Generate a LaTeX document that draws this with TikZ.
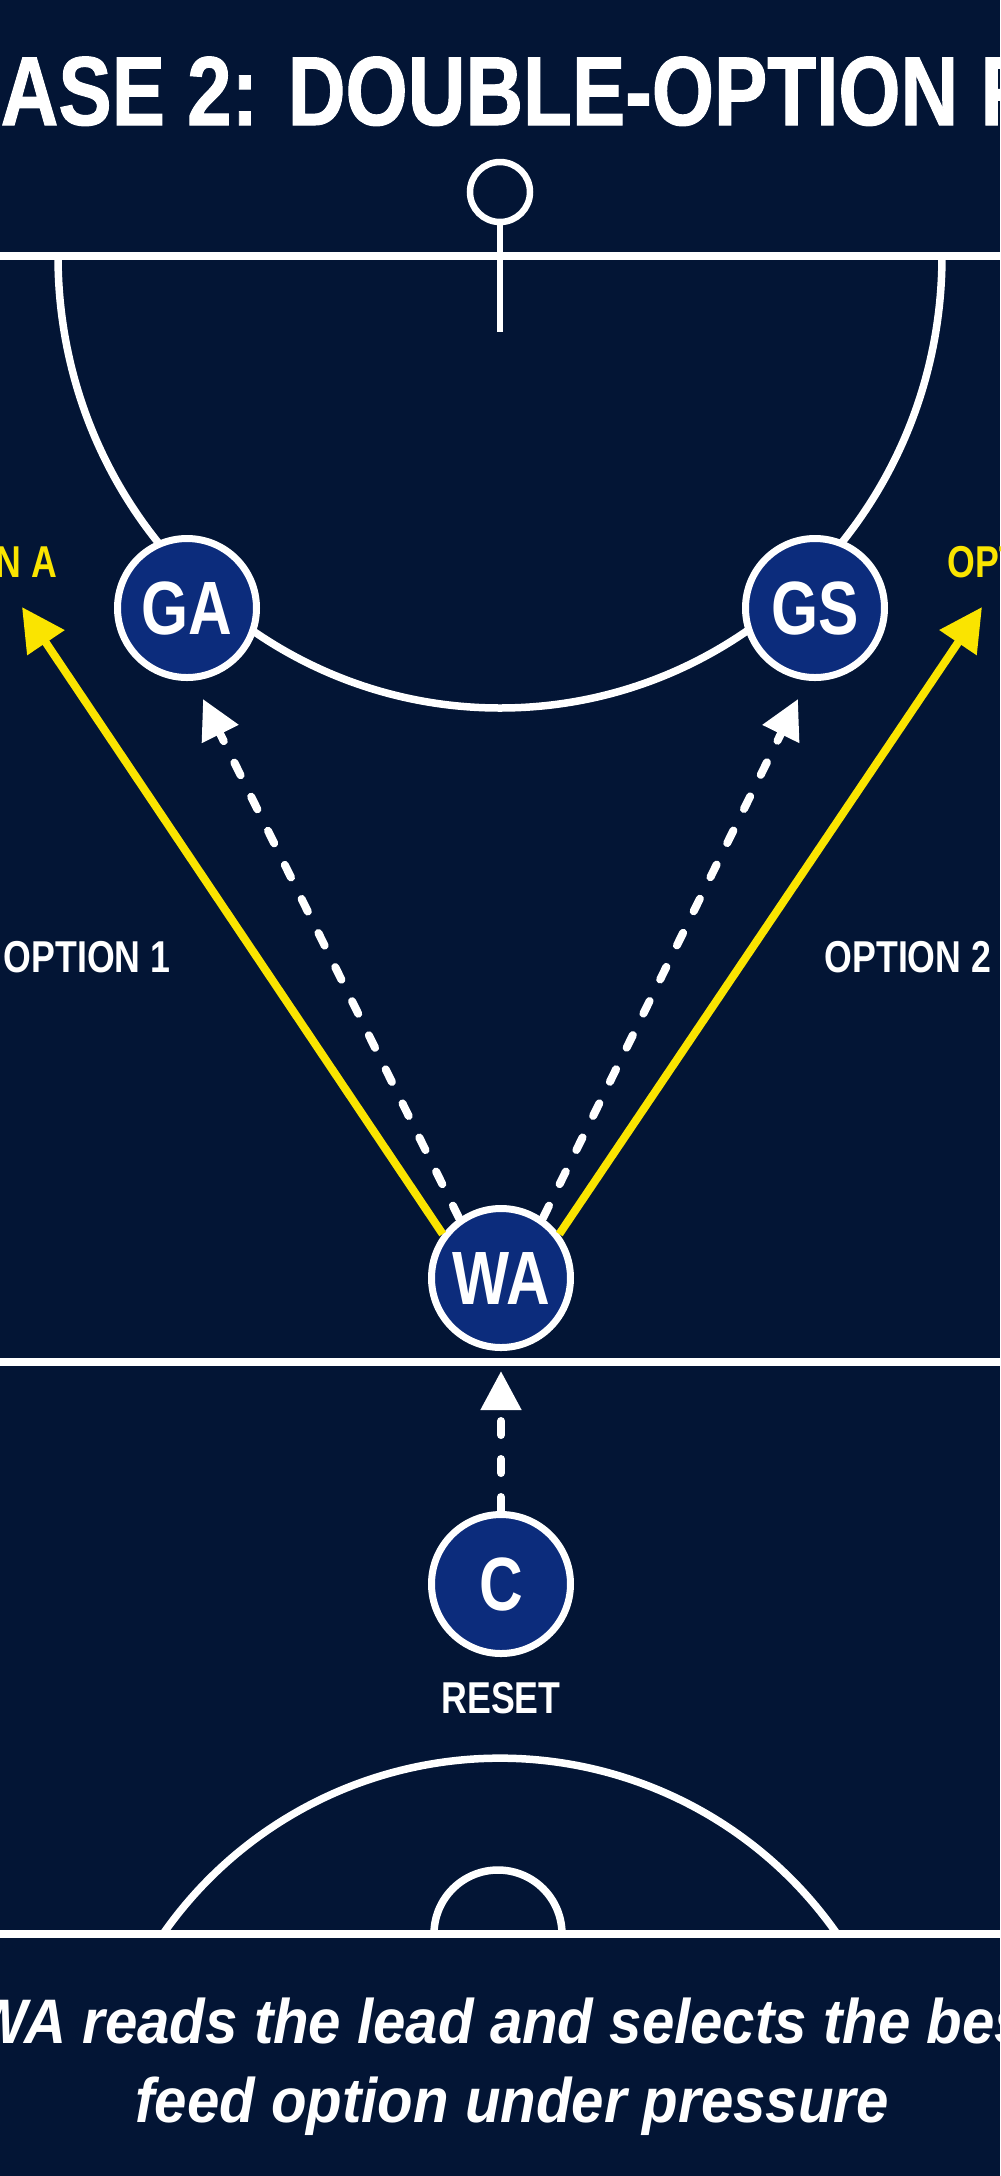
\documentclass[tikz,border=0pt]{standalone}
\usepackage{fontspec}
\setmainfont{Liberation Sans}
\newfontfamily\condfont[FakeStretch=0.8]{Liberation Sans}
\newfontfamily\titlefont[FakeStretch=0.815, FakeBold=1]{Liberation Sans}
\newfontfamily\captfont[FakeStretch=0.925]{Liberation Sans}
\usetikzlibrary{arrows.meta}

\definecolor{courtbg}{RGB}{3,21,53}
\definecolor{playerblue}{RGB}{12,44,124}
\definecolor{optyellow}{RGB}{250,228,0}

\begin{document}
\begin{tikzpicture}[x=0.1mm, y=-0.1mm,
	court/.style={draw=white, line width=0.75mm},
	player/.style={circle, draw=white, line width=0.7mm, fill=playerblue,
		minimum size=13.9mm, inner sep=0pt, text=white,
		font=\condfont\bfseries\fontsize{21.5}{23}\selectfont},
	lbl/.style={inner sep=0pt, text=white,
		font=\condfont\bfseries\fontsize{12.7}{14}\selectfont},
	optlbl/.style={lbl, text=optyellow},
	feed/.style={draw=optyellow, line width=0.8mm, -{Triangle[length=4.3mm, width=4.3mm]}},
	lead/.style={draw=white, line width=0.8mm, line cap=round,
		dash pattern=on 1.4mm off 2.4mm, -{Triangle[length=3.9mm, width=3.9mm]}}]

% background
	\useasboundingbox (0,0) rectangle (1000,2176);
	\fill[courtbg] (0,0) rectangle (1000,2176);
	\clip (0,0) rectangle (1000,2176);

% title
	\node[anchor=base west, inner sep=0pt, text=white,
		font=\titlefont\bfseries\fontsize{27.9}{30}\selectfont] (title) at (0,125) {ASE 2: DOUBLE-OPTION F};

% draw court lines
	\draw[court] (0,256) -- (1000,256);
	\draw[court] (0,1362) -- (1000,1362);
	\draw[court] (0,1934) -- (1000,1934);
	\draw[court] (58,256) arc[start angle=180, end angle=360, x radius=44.2mm, y radius=45.2mm];
	\draw[court] (163,1934) arc[start angle=145.1, end angle=34.9, radius=41.1mm];
	\draw[court] (434,1934) arc[start angle=180, end angle=0, radius=6.4mm];

% goal post and ring
	\draw[court, line width=0.65mm] (500,222) -- (500,332);
	\draw[court, line width=0.65mm] (500,192) circle[radius=3mm];

% players
	\node[player] (GA) at (187,608) {GA};
	\node[player] (GS) at (815,608) {GS};
	\node[player] (WA) at (501,1278) {WA};
	\node[player] (C) at (501,1584) {C};

% labels
	\node[optlbl, anchor=base east] (optA) at (58,577) {N A};
	\node[optlbl, anchor=base west] (optB) at (947,577) {OPT};
	\node[lbl, anchor=base west] (opt1) at (3,972) {OPTION 1};
	\node[lbl, anchor=base east] (opt2) at (992,972) {OPTION 2};
	\node[lbl, anchor=base] (reset) at (501,1713) {RESET};

% arrow ends
	\coordinate (tipA) at (22,607);
	\coordinate (tipB) at (982,607);
	\coordinate (tipGA) at (203,699);
	\coordinate (tipGS) at (798,699);

% passing options
	\draw[feed] (WA.143) -- (tipA);
	\draw[feed] (WA.37) -- (tipB);
	\draw[lead] (WA.125) -- (tipGA);
	\draw[lead] (WA.55) -- (tipGS);
	\draw[lead, shorten >=2mm] (C.north) -- (WA.south);

% caption
	\node[anchor=base west, inner sep=0pt, text=white,
		font=\captfont\bfseries\itshape\fontsize{17.9}{20}\selectfont] (cap1) at (-28,2043) {WA reads the lead and selects the bes};
	\node[anchor=base, inner sep=0pt, text=white,
		font=\captfont\bfseries\itshape\fontsize{17.9}{20}\selectfont] (cap2) at (512,2122) {feed option under pressure};

\end{tikzpicture}
\end{document}
